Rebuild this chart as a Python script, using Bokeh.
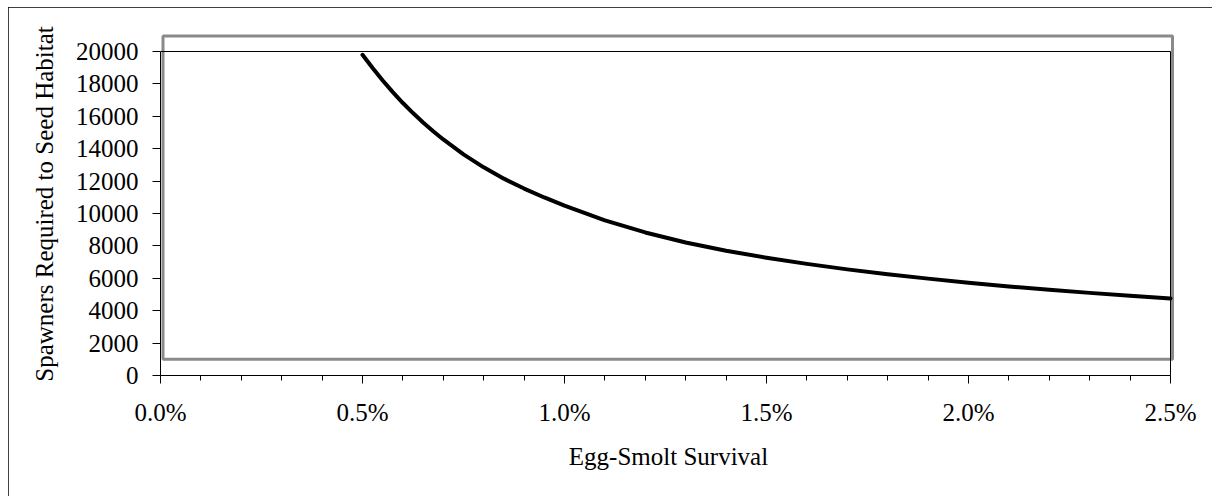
from bokeh.plotting import figure
from bokeh.models import Range1d, FixedTicker, NumeralTickFormatter
from bokeh.embed import file_html
from bokeh.resources import INLINE

# ---- data ----
survival = [0.00500, 0.00525, 0.00550, 0.00575, 0.00600, 0.00625, 0.00650, 0.00675, 0.00700,
            0.00750, 0.00800, 0.00850, 0.00900, 0.00950,
            0.0100, 0.0110, 0.0120, 0.0130, 0.0140, 0.0150, 0.0160, 0.0170, 0.0180, 0.0190,
            0.0200, 0.0210, 0.0220, 0.0230, 0.0240, 0.0250]
spawners = [19800, 18980, 18210, 17490, 16820, 16200, 15620, 15080, 14570,
            13650, 12850, 12150, 11540, 10990,
            10490, 9580, 8830, 8210, 7700, 7270, 6890, 6550, 6250, 5980,
            5730, 5500, 5290, 5100, 4920, 4760]

x_major_ticks = [0.0, 0.005, 0.010, 0.015, 0.020, 0.025]
x_minor_ticks = [i / 1000 for i in range(0, 26)]
y_ticks = [0, 2000, 4000, 6000, 8000, 10000, 12000, 14000, 16000, 18000, 20000]

x_label = "Egg-Smolt Survival"
y_label = "Spawners Required to Seed Habitat"

# ---- layout / styling ----
FONT = "Liberation Serif"
X_MIN, X_MAX = 0.0, 0.025
Y_MIN, Y_MAX = 0, 20000
# gray plot-area border (chart decoration)
box_left, box_right, box_bottom, box_top = 0.000062, 0.02505, 1000, 20956

p = figure(width=1204, height=489, output_backend="svg", toolbar_location=None,
           x_range=Range1d(0, 0.0251485), y_range=Range1d(0, 21173),
           min_border_left=152, min_border_right=36, min_border_top=25, min_border_bottom=121,
           background_fill_color="white", border_fill_color="white")
p.margin = (7, 0, 0, 8)
p.outline_line_color = None
p.grid.visible = False
p.styles = {"outline": "1px solid black", "outline-offset": "-1px"}

# gray plot-area rectangle
p.quad(left=[box_left], right=[box_right], bottom=[box_bottom], top=[box_top],
       fill_color=None, line_color="#8a8a8a", line_width=3)

# black frame top/right
p.line(x=[X_MIN, X_MAX, X_MAX], y=[Y_MAX, Y_MAX, Y_MIN], line_color="black", line_width=1)

# curve
p.line(x=survival, y=spawners, line_color="black", line_width=4, line_cap="round",
       line_join="round")

# x axis
xa = p.xaxis[0]
xa.ticker = FixedTicker(ticks=x_major_ticks, minor_ticks=x_minor_ticks)
xa.formatter = NumeralTickFormatter(format="0.0%")
xa.bounds = (X_MIN, X_MAX)
xa.axis_label = x_label
xa.major_tick_out = 8
xa.major_tick_in = 0
xa.minor_tick_out = 5
xa.minor_tick_in = 0
xa.major_label_standoff = 15
xa.axis_label_standoff = 14

# y axis
ya = p.yaxis[0]
ya.ticker = FixedTicker(ticks=y_ticks, minor_ticks=[])
ya.bounds = (Y_MIN, Y_MAX)
ya.axis_label = y_label
ya.major_tick_out = 8
ya.major_tick_in = 0
ya.minor_tick_out = 0
ya.minor_tick_in = 0
ya.major_label_standoff = 14
ya.axis_label_standoff = 15

for ax in (xa, ya):
    ax.axis_line_color = "black"
    ax.axis_line_width = 1
    ax.major_tick_line_color = "black"
    ax.minor_tick_line_color = "black"
    ax.major_label_text_font = FONT
    ax.major_label_text_font_size = "25px"
    ax.major_label_text_color = "black"
    ax.axis_label_text_font = FONT
    ax.axis_label_text_font_size = "25px"
    ax.axis_label_text_font_style = "normal"
    ax.axis_label_text_color = "black"

open("out.html", "w").write(file_html(p, INLINE))
